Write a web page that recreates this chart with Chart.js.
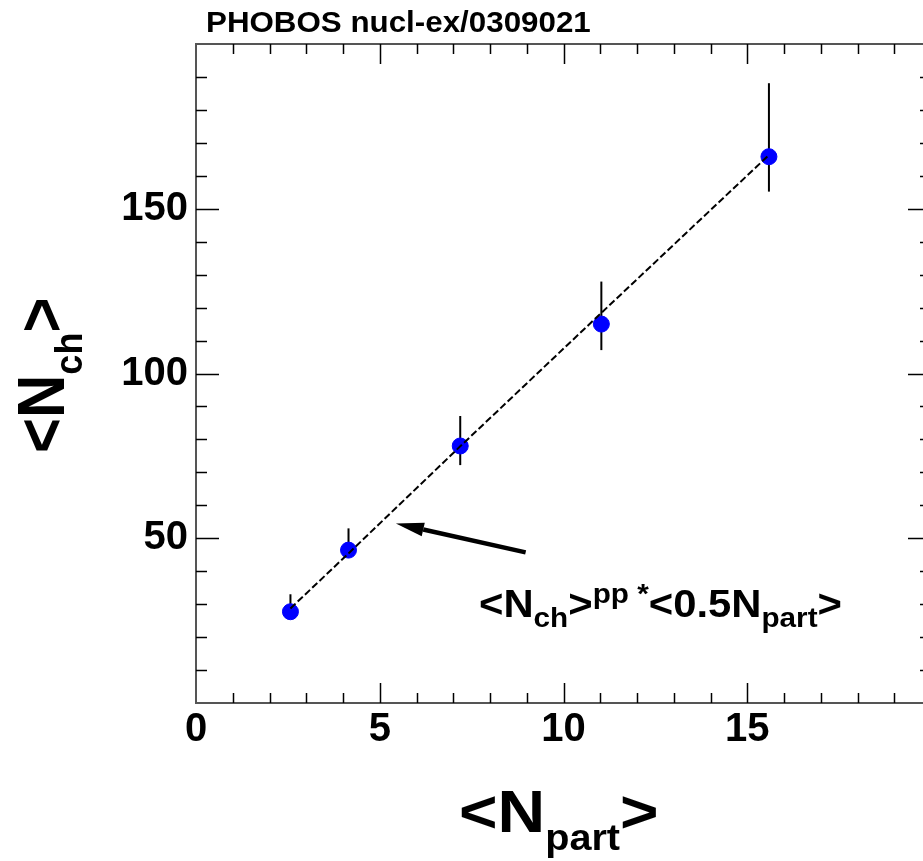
<!DOCTYPE html>
<html>
<head>
<meta charset="utf-8">
<script src="https://cdn.jsdelivr.net/npm/chart.js@4.4.1/dist/chart.umd.min.js"></script>
<style>
  html, body { margin: 0; padding: 0; background: #fff; overflow: hidden; }
  canvas { display: block; }
</style>
</head>
<body>
<canvas id="myChart" width="940" height="861"></canvas>
<script>
// values
const nPart = [2.57, 4.15, 7.19, 11.03, 15.59];
const nCh = [27.7, 46.4, 78.0, 115.0, 165.8];
const nChErrUp = [5.3, 6.6, 9.1, 12.9, 22.3];
const nChErrDown = [2.2, 2.4, 5.8, 7.9, 10.6];
const ppScaled = [28.7, 45.4, 77.9, 118.4, 166.3];
const xTickLabels = [0, 5, 10, 15];
const yTickLabels = [50, 100, 150];

const FONT = '"Liberation Sans", Arial, Helvetica, sans-serif';
const STRETCH = 1.1;

function drawRich(ctx, parts, x, y, sx, sy) {
    ctx.save();
    ctx.translate(x, y);
    ctx.scale(sx, sy);
    ctx.fillStyle = '#000';
    ctx.textAlign = 'left';
    ctx.textBaseline = 'alphabetic';
    var cx = 0;
    for (var i = 0; i < parts.length; i++) {
        var p = parts[i];
        ctx.font = 'bold ' + p.size + 'px ' + FONT;
        ctx.fillText(p.t, cx, p.dy || 0);
        cx += ctx.measureText(p.t).width;
    }
    ctx.restore();
}

// error bars, drawn under the markers
const errorBars = {
    id: 'errorBars',
    beforeDatasetsDraw(chart) {
        const ctx = chart.ctx, x = chart.scales.x, y = chart.scales.y;
        ctx.save();
        ctx.strokeStyle = '#000';
        ctx.lineWidth = 2;
        for (var i = 0; i < nPart.length; i++) {
            var px = x.getPixelForValue(nPart[i]);
            ctx.beginPath();
            ctx.moveTo(px, y.getPixelForValue(nCh[i] + nChErrUp[i]));
            ctx.lineTo(px, y.getPixelForValue(nCh[i] - nChErrDown[i]));
            ctx.stroke();
        }
        ctx.restore();
    }
};

// ROOT style frame: inward ticks on all four sides, texts and arrow
const rootFrame = {
    id: 'rootFrame',
    afterDraw(chart) {
        const ctx = chart.ctx, x = chart.scales.x, y = chart.scales.y;
        const a = chart.chartArea;
        ctx.save();
        ctx.strokeStyle = '#555';
        ctx.lineWidth = 2;
        ctx.beginPath();
        ctx.moveTo(a.left, a.top);
        ctx.lineTo(a.right, a.top);
        ctx.lineTo(a.right, a.bottom);
        ctx.stroke();

        ctx.strokeStyle = '#000';
        ctx.lineWidth = 1.5;
        ctx.beginPath();
        for (var v = 1; v < 20; v++) {
            var px = Math.round(x.getPixelForValue(v)) + 0.5;
            var len = v % 5 === 0 ? 20 : 10;
            ctx.moveTo(px, a.bottom); ctx.lineTo(px, a.bottom - len);
            ctx.moveTo(px, a.top); ctx.lineTo(px, a.top + len);
        }
        for (var w = 10; w < 200; w += 10) {
            var py = Math.round(y.getPixelForValue(w)) + 0.5;
            var ylen = w % 50 === 0 ? 23 : 11;
            ctx.moveTo(a.left, py); ctx.lineTo(a.left + ylen, py);
            ctx.moveTo(a.right, py); ctx.lineTo(a.right - ylen, py);
        }
        ctx.stroke();

        // arrow pointing at the dashed line
        var tx = x.getPixelForValue(8.97), ty = y.getPixelForValue(45.7);
        var hx = x.getPixelForValue(5.44), hy = y.getPixelForValue(54.5);
        var ang = Math.atan2(hy - ty, hx - tx);
        var headLen = 28, headW = 7;
        var bx = hx - headLen * Math.cos(ang), by = hy - headLen * Math.sin(ang);
        ctx.lineWidth = 4.5;
        ctx.beginPath();
        ctx.moveTo(tx, ty);
        ctx.lineTo(bx, by);
        ctx.stroke();
        ctx.fillStyle = '#000';
        ctx.beginPath();
        ctx.moveTo(hx, hy);
        ctx.lineTo(bx - headW * Math.sin(ang), by + headW * Math.cos(ang));
        ctx.lineTo(bx + headW * Math.sin(ang), by - headW * Math.cos(ang));
        ctx.closePath();
        ctx.fill();
        ctx.restore();

        // header
        drawRich(ctx, [{ t: 'PHOBOS nucl-ex/0309021', size: 29 }], 206, 32, 1.08, 1);

        // annotation
        drawRich(ctx, [
            { t: '<N', size: 38 },
            { t: 'ch', size: 27, dy: 10 },
            { t: '>', size: 38 },
            { t: 'pp *', size: 27, dy: -14 },
            { t: '<0.5N', size: 38 },
            { t: 'part', size: 27, dy: 10 },
            { t: '>', size: 38 }
        ], x.getPixelForValue(7.7), y.getPixelForValue(26.2), STRETCH, 1);

        // x title
        drawRich(ctx, [
            { t: '<N', size: 60 },
            { t: 'part', size: 36, dy: 18 },
            { t: '>', size: 60 }
        ], 459, 832, STRETCH, 1);

        // y title, rotated
        ctx.save();
        ctx.translate(64, 453);
        ctx.rotate(-Math.PI / 2);
        drawRich(ctx, [
            { t: '<N', size: 60 },
            { t: 'ch', size: 36, dy: 16 },
            { t: '>', size: 60 }
        ], 0, 0, 1, STRETCH);
        ctx.restore();
    }
};

function dibujarGrafico() {
    const ctx = document.getElementById('myChart').getContext('2d');
    const puntos = nPart.map(function (v, i) { return { x: v, y: nCh[i] }; });
    const linea = nPart.map(function (v, i) { return { x: v, y: ppScaled[i] }; });
    new Chart(ctx, {
        type: 'scatter',
        data: {
            datasets: [{
                label: 'ppScaled',
                data: linea,
                showLine: true,
                borderColor: '#000',
                borderWidth: 2,
                borderDash: [7, 3],
                pointRadius: 0,
                order: 0
            }, {
                label: 'PHOBOS',
                data: puntos,
                backgroundColor: '#0000ff',
                borderColor: '#0000ff',
                pointRadius: 8,
                pointHoverRadius: 8,
                order: 1
            }]
        },
        options: {
            responsive: false,
            animation: false,
            layout: { padding: { left: 0, top: 44, right: 8, bottom: 0 } },
            plugins: {
                legend: { display: false },
                tooltip: { enabled: false }
            },
            scales: {
                x: {
                    type: 'linear',
                    min: 0,
                    max: 20,
                    grid: { display: false },
                    border: { display: true, color: '#555', width: 2 },
                    ticks: {
                        stepSize: 5,
                        padding: -5,
                        color: '#000',
                        font: { family: FONT, size: 40, weight: 'bold' },
                        callback: function (v) { return xTickLabels.indexOf(v) >= 0 ? String(v) : ''; }
                    },
                    afterFit: function (scale) { scale.height = 158; }
                },
                y: {
                    type: 'linear',
                    min: 0,
                    max: 200,
                    grid: { display: false },
                    border: { display: true, color: '#555', width: 2 },
                    ticks: {
                        stepSize: 50,
                        padding: 0,
                        color: '#000',
                        font: { family: FONT, size: 40, weight: 'bold' },
                        callback: function (v) { return yTickLabels.indexOf(v) >= 0 ? String(v) : ''; }
                    },
                    afterFit: function (scale) { scale.width = 196; }
                }
            }
        },
        plugins: [errorBars, rootFrame]
    });
}

dibujarGrafico();
</script>
</body>
</html>
